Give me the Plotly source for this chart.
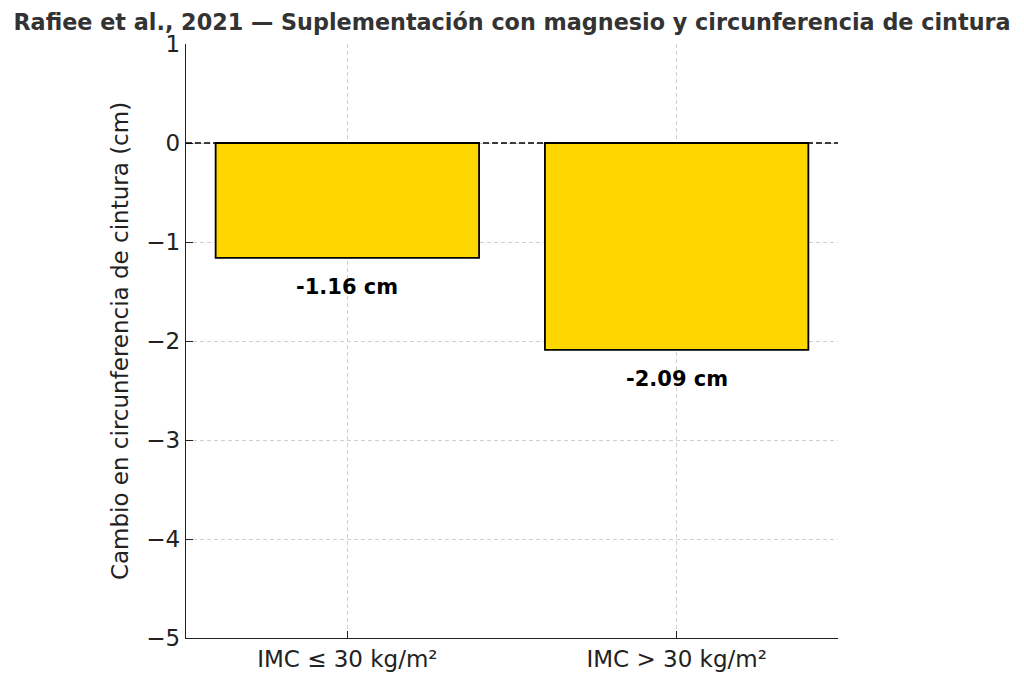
import plotly.graph_objects as go

# Rafiee et al., 2021 - waist circumference change by BMI group
categories = ["IMC ≤ 30 kg/m²", "IMC > 30 kg/m²"]
changes = [-1.16, -2.09]
labels = [f"{v:.2f} cm" for v in changes]

font_family = "DejaVu Sans"

fig = go.Figure()
fig.add_trace(go.Bar(
    x=categories, y=changes, width=0.8,
    marker=dict(color="#FFD700", line=dict(color="black", width=1.8)),
    showlegend=False, hoverinfo="skip",
))

# value labels under each bar
for cat, val, txt in zip(categories, changes, labels):
    fig.add_annotation(x=cat, y=val - 0.29, text=f"<b>{txt}</b>", showarrow=False,
                       font=dict(family=font_family, size=21, color="black"))

# reference line at zero
fig.add_shape(type="line", xref="paper", yref="y", x0=0, x1=1, y0=0, y1=0,
              line=dict(color="black", width=1.5, dash="6px,3px"))

# the page body adds 8px around the figure, so margins are shifted to compensate
fig.update_layout(
    width=1024, height=682,
    margin=dict(l=178, r=194, t=36, b=52),
    paper_bgcolor="white", plot_bgcolor="white",
    font=dict(family=font_family, color="#222222"),
    title=dict(text="<b>Rafiee et al., 2021 — Suplementación con magnesio y circunferencia de cintura</b>",
               x=0.4922, xanchor="center", y=0.979, yanchor="middle",
               font=dict(size=22.3, color="#333333")),
)
fig.update_xaxes(
    range=[-0.49, 1.49], showline=True, linecolor="#222222", linewidth=1.3,
    ticks="inside", ticklen=7, tickcolor="#222222",
    showgrid=True, gridcolor="#d0d0d0", griddash="4px,3px", gridwidth=1,
    tickfont=dict(size=23),
)
fig.update_yaxes(
    range=[-5, 1], dtick=1, showline=True, linecolor="#222222", linewidth=1.3,
    ticks="inside", ticklen=7, tickcolor="#222222",
    showgrid=True, gridcolor="#d0d0d0", griddash="4px,3px", gridwidth=1,
    zeroline=False, tickfont=dict(size=23),
    title=dict(text="Cambio en circunferencia de cintura (cm)", font=dict(size=23), standoff=11),
)

fig.write_html("out.html")
